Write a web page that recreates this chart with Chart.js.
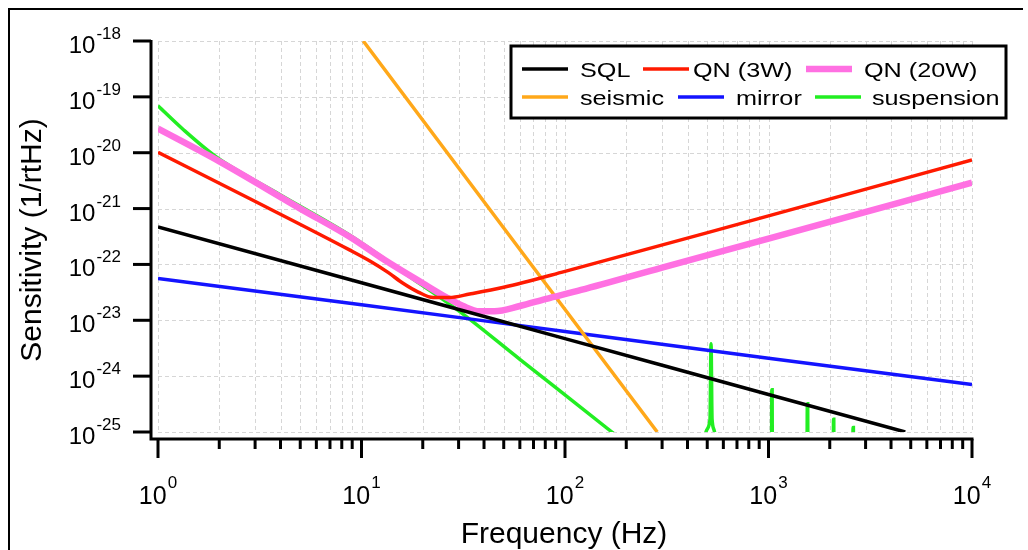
<!DOCTYPE html>
<html>
<head>
<meta charset="utf-8">
<script src="https://cdn.jsdelivr.net/npm/chart.js@4.4.0/dist/chart.umd.min.js"></script>
<style>
  body { margin: 0; background: #fff; }
  canvas { display: block; }
</style>
</head>
<body>
<canvas id="sensChart" width="1028" height="550"></canvas>
<script>
// tick values (log axes), labels are the exponents
const xMajorTicks = [1, 10, 100, 1000, 10000];
const xTickExps = ['0', '1', '2', '3', '4'];
const yMajorTicks = [1e-18, 1e-19, 1e-20, 1e-21, 1e-22, 1e-23, 1e-24, 1e-25];
const yTickExps = ['-18', '-19', '-20', '-21', '-22', '-23', '-24', '-25'];

// [frequency Hz, sensitivity 1/rtHz]
const sqlData = [[1, 4.7e-22], [10, 4.7e-23], [100, 4.7e-24], [1000, 4.7e-25], [4700, 1e-25]];
const qn3Data = [[1, 1.02e-20], [2.83, 1.5e-21], [8.78, 1.8e-22], [11, 1.15e-22], [13.5, 7.2e-23],
    [16, 4.6e-23], [19, 3.2e-23], [22.5, 2.55e-23], [27, 2.55e-23], [34, 2.95e-23], [50, 3.9e-23],
    [100, 7.5e-23], [1000, 7.4e-22], [10000, 7.4e-21]];
const qn20Data = [[1, 2.7e-20], [2, 7.0e-21], [5, 1.0e-21], [8.78, 3.1e-22], [13, 1.2e-22], [20, 4.6e-23],
    [26, 2.6e-23], [31.6, 1.8e-23], [38, 1.45e-23], [45, 1.45e-23], [60, 1.8e-23], [80, 2.4e-23],
    [120, 3.5e-23], [300, 8.8e-23], [1000, 2.9e-22], [10000, 2.9e-21]];
const seismicData = [[10.2, 1e-18], [50, 4.5e-22], [284, 1e-25]];
const mirrorData = [[1, 5.6e-23], [10, 1.9e-23], [100, 6.3e-24], [1000, 2.1e-24], [10000, 7.1e-25]];
const suspensionData = [[1, 6.9e-20], [1.33, 2.6e-20], [1.95, 8.2e-21], [4, 1.75e-21], [8.8, 3.3e-22],
    [18, 5.4e-23], [29.5, 1.55e-23], [60, 2.0e-24], [170, 1e-25], [300, 1.9e-26], [480, 4.9e-27],
    [493, 1e-25], [516, 1.7e-25], [522, 3.8e-24], [528, 1.7e-25], [543, 1e-25], [560, 3e-27],
    [1000, 6e-28], [1033, 5e-28], [1038, 5.7e-25], [1042, 5.7e-25], [1047, 5e-28],
    [1540, 4e-28], [1552, 3.2e-25], [1558, 3.2e-25], [1570, 4e-28],
    [2075, 3e-28], [2087, 1.7e-25], [2093, 1.7e-25], [2105, 3e-28],
    [2590, 2e-28], [2603, 1.2e-25], [2613, 1.2e-25], [2625, 2e-28], [10000, 1e-29]];

const FONT = "'Liberation Sans', Arial, Helvetica, sans-serif";

function toXY(arr) {
    return arr.map(p => ({ x: p[0], y: p[1] }));
}

function makeSet(label, data, color, width) {
    return {
        label: label,
        data: toXY(data),
        borderColor: color,
        backgroundColor: color,
        borderWidth: width,
        pointRadius: 0,
        fill: false,
        cubicInterpolationMode: 'monotone'
    };
}

// draws "10" with a superscript exponent
function drawPow(ctx, exp, x, y, align, size, supSize, rise) {
    ctx.font = size + 'px ' + FONT;
    const w1 = ctx.measureText('10').width;
    ctx.font = supSize + 'px ' + FONT;
    const w2 = ctx.measureText(exp).width;
    const total = w1 + w2 + 1;
    let left = x;
    if (align === 'center') left = x - total / 2;
    if (align === 'right') left = x - total;
    ctx.textAlign = 'left';
    ctx.textBaseline = 'alphabetic';
    ctx.font = size + 'px ' + FONT;
    ctx.fillText('10', left, y);
    ctx.font = supSize + 'px ' + FONT;
    ctx.fillText(exp, left + w1 + 1, y - rise);
}

const gridPlugin = {
    id: 'igorGrid',
    beforeDatasetsDraw(chart) {
        const ctx = chart.ctx;
        const xs = chart.scales.x, ys = chart.scales.y;
        const area = chart.chartArea;
        ctx.save();
        ctx.strokeStyle = '#d6d6d6';
        ctx.lineWidth = 1;
        ctx.setLineDash([4, 3]);
        // vertical grid, majors and minors
        xMajorTicks.forEach((v, i) => {
            const steps = i < xMajorTicks.length - 1 ? [1, 2, 3, 4, 5, 6, 7, 8, 9] : [1];
            steps.forEach(m => {
                const px = Math.round(xs.getPixelForValue(v * m)) + 0.5;
                ctx.beginPath();
                ctx.moveTo(px, area.top);
                ctx.lineTo(px, area.bottom);
                ctx.stroke();
            });
        });
        yMajorTicks.forEach(v => {
            const py = Math.round(ys.getPixelForValue(v)) + 0.5;
            ctx.beginPath();
            ctx.moveTo(area.left, py);
            ctx.lineTo(area.right, py);
            ctx.stroke();
        });
        ctx.restore();
    },
    afterDraw(chart) {
        const ctx = chart.ctx;
        const xs = chart.scales.x, ys = chart.scales.y;
        const area = chart.chartArea;
        ctx.save();
        ctx.fillStyle = '#000';
        ctx.strokeStyle = '#000';

        // frame around the whole figure
        ctx.lineWidth = 2;
        ctx.beginPath();
        ctx.moveTo(9, 550);
        ctx.lineTo(9, 9);
        ctx.lineTo(1023, 9);
        ctx.stroke();

        // offset axes
        const axisX = area.left - 7;
        const axisY = area.bottom + 7;
        ctx.lineWidth = 3;
        ctx.beginPath();
        ctx.moveTo(axisX, area.top - 1);
        ctx.lineTo(axisX, axisY + 1.5);
        ctx.moveTo(axisX - 1.5, axisY);
        ctx.lineTo(area.right + 1.5, axisY);
        ctx.stroke();

        // y ticks + labels
        yMajorTicks.forEach((v, i) => {
            const py = ys.getPixelForValue(v);
            ctx.beginPath();
            ctx.moveTo(axisX - 18, py);
            ctx.lineTo(axisX, py);
            ctx.stroke();
            drawPow(ctx, yTickExps[i], 121, py + 12, 'right', 24, 17, 14);
        });

        // x ticks + labels
        xMajorTicks.forEach((v, i) => {
            const px = xs.getPixelForValue(v);
            ctx.beginPath();
            ctx.moveTo(px, axisY);
            ctx.lineTo(px, axisY + 19);
            ctx.stroke();
            drawPow(ctx, xTickExps[i], px, 504, 'center', 25, 17, 16);
            if (i < xMajorTicks.length - 1) {
                for (let m = 2; m <= 9; m++) {
                    const pm = xs.getPixelForValue(v * m);
                    ctx.beginPath();
                    ctx.moveTo(pm, axisY);
                    ctx.lineTo(pm, axisY + 10);
                    ctx.stroke();
                }
            }
        });

        // axis titles
        ctx.font = '30px ' + FONT;
        ctx.textAlign = 'center';
        ctx.textBaseline = 'alphabetic';
        ctx.fillText('Frequency (Hz)', 564, 543);
        ctx.save();
        ctx.translate(41, 240);
        ctx.rotate(-Math.PI / 2);
        ctx.fillText('Sensitivity (1/rtHz)', 0, 0);
        ctx.restore();

        // legend box
        ctx.lineWidth = 3;
        ctx.fillStyle = '#fff';
        ctx.fillRect(511, 46, 495, 72);
        ctx.strokeRect(511, 46, 495, 72);

        const slots = [
            [522, 580, 69], [643, 693, 69], [806, 864, 69],
            [522, 580, 97], [678, 736, 97], [815, 872, 97]
        ];
        chart.data.datasets.forEach((ds, i) => {
            const s = slots[i];
            ctx.strokeStyle = ds.borderColor;
            ctx.lineWidth = ds.borderWidth;
            ctx.beginPath();
            ctx.moveTo(s[0], s[2]);
            ctx.lineTo(s[0] + 46, s[2]);
            ctx.stroke();
            ctx.fillStyle = '#000';
            ctx.font = '21px ' + FONT;
            ctx.textAlign = 'left';
            ctx.save();
            ctx.translate(s[1], s[2] + 7.5);
            ctx.scale(1.2, 1);
            ctx.fillText(ds.label, 0, 0);
            ctx.restore();
        });
        ctx.restore();
    }
};

const ctx = document.getElementById('sensChart').getContext('2d');
const chart = new Chart(ctx, {
    type: 'line',
    data: {
        datasets: [
            makeSet('SQL', sqlData, '#000000', 3.5),
            makeSet('QN (3W)', qn3Data, '#ff1a00', 3.5),
            makeSet('QN (20W)', qn20Data, '#ff70e2', 6.5),
            makeSet('seismic', seismicData, '#ffa81a', 3.5),
            makeSet('mirror', mirrorData, '#1414ff', 3.5),
            makeSet('suspension', suspensionData, '#22ee22', 3.5)
        ]
    },
    options: {
        responsive: false,
        animation: false,
        layout: {
            padding: { left: 158, right: 56, top: 41, bottom: 118 }
        },
        plugins: {
            legend: { display: false },
            tooltip: { enabled: false }
        },
        scales: {
            x: { type: 'logarithmic', min: 1, max: 10000, display: false },
            y: { type: 'logarithmic', min: 1e-25, max: 1e-18, display: false }
        }
    },
    plugins: [gridPlugin]
});
</script>
</body>
</html>
